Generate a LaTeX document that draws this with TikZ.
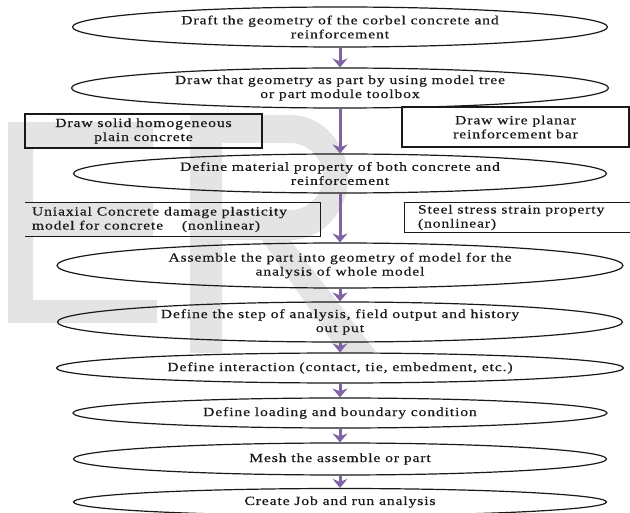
\documentclass[tikz,border=0pt]{standalone}
\usepackage{fontspec}
\setmainfont{Liberation Serif}[FakeStretch=1.25, LetterSpace=7, FakeBold=0.5]
\usetikzlibrary{shapes.geometric,arrows.meta}
\definecolor{wm}{RGB}{228,228,228}
\definecolor{flowpurple}{RGB}{128,100,162}
\begin{document}
\begin{tikzpicture}[x=1pt,y=-1pt,
  every node/.style={font=\fontsize{12.5}{14}\selectfont, text=black!90},
  stage/.style={ellipse, draw=black!90, line width=1.2pt, inner sep=0pt, align=center},
  boxed/.style={rectangle, draw=black!90, line width=1.2pt, inner sep=0pt, align=center},
  frame/.style={rectangle, inner sep=0pt},
  frameline/.style={draw=black!90, line width=1.2pt},
  flow/.style={draw=flowpurple, line width=3pt, -{Stealth[length=9pt,width=15pt,inset=3pt]}},
  watermark/.style={fill=wm}]
\useasboundingbox (0,0) rectangle (630,513);

% watermark letters (E and R)
\fill[watermark] (8,122) -- (153,122) -- (153,148) -- (33,148) -- (33,203) -- (153,203)
  -- (153,236) -- (33,236) -- (33,300) -- (157,300) -- (157,323) -- (8,323) -- cycle;
\fill[watermark, even odd rule]
  (190,115) -- (290,115) arc[start angle=-90, end angle=90, x radius=58, y radius=62.5]
  -- (377,353) -- (340,353) -- (262,240) -- (222,240) -- (222,353) -- (190,353) -- cycle
  (222,143) -- (290,143) arc[start angle=-90, end angle=90, x radius=33, y radius=33.5]
  -- (222,210) -- cycle;

% main stages
\node[stage, minimum width=535pt, minimum height=40pt] (e1) at (340,27)
  {Draft the geometry of the corbel concrete and\\reinforcement};
\node[stage, minimum width=537pt, minimum height=40pt] (e2) at (340,88)
  {Draw that geometry as part by using model tree\\or part module toolbox};
\node[stage, minimum width=533pt, minimum height=39pt] (e3) at (340,173.5)
  {Define material property of both concrete and\\reinforcement};
\node[stage, minimum width=566pt, minimum height=45pt] (e4) at (340,265.5)
  {Assemble the part into geometry of model for the\\analysis of whole model};
\node[stage, minimum width=565pt, minimum height=40pt] (e5) at (340,322)
  {Define the step of analysis, field output and history\\out put};
\node[stage, minimum width=567pt, minimum height=30pt] (e6) at (340,368)
  {Define interaction (contact, tie, embedment, etc.)};
\node[stage, minimum width=534pt, minimum height=30pt] (e7) at (340,413)
  {Define loading and boundary condition};
\node[stage, minimum width=533pt, minimum height=32pt] (e8) at (340,459)
  {Mesh the assemble or part};
\node[stage, minimum width=533pt, minimum height=27pt] (e9) at (340,502)
  {Create Job and run analysis};

% side boxes
\node[boxed, minimum width=237pt, minimum height=34pt] (b1) at (143.5,131)
  {Draw solid homogeneous\\plain concrete};
\node[boxed, minimum width=227pt, minimum height=40pt] (b2) at (515.5,127)
  {Draw wire planar\\reinforcement bar};
\node[frame, minimum width=295pt, minimum height=33pt] (b3) at (172.5,219.5) {};
\draw[frameline] (b3.north west) -- (b3.north east) -- (b3.south east) -- (b3.south west);
\node[anchor=west, align=left, inner sep=0pt] (b3t) at ([xshift=7pt]b3.west)
  {Uniaxial Concrete damage plasticity\\model for concrete\hspace{1.5em}(nonlinear)};
\node[frame, minimum width=225pt, minimum height=29pt] (b4) at (517.5,217.5) {};
\draw[frameline] (b4.north east) -- (b4.north west) -- (b4.south west) -- (b4.south east);
\node[anchor=west, align=left, inner sep=0pt] (b4t) at ([xshift=13pt]b4.west)
  {Steel stress strain property\\(nonlinear)};

% connectors
\draw[flow] (e1.south) -- (e2.north);
\draw[flow] (e2.south) -- (e3.north);
\draw[flow] (e3.south) -- (e4.north);
\draw[flow] (e4.south) -- (e5.north);
\draw[flow] (e5.south) -- (e6.north);
\draw[flow] (e6.south) -- (e7.north);
\draw[flow] (e7.south) -- (e8.north);
\draw[flow] (e8.south) -- (e9.north);
\end{tikzpicture}
\end{document}
